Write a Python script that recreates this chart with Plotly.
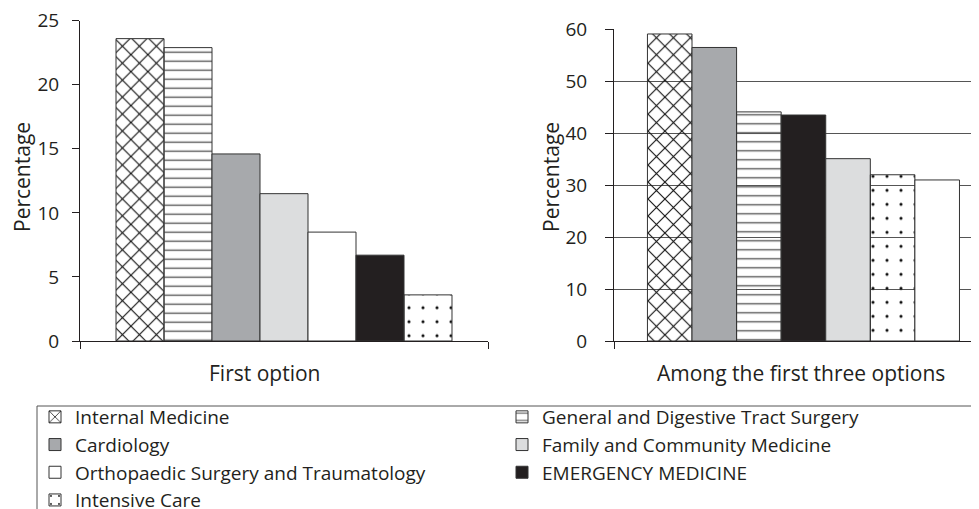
import plotly.graph_objects as go

# The page body adds an 8px margin, so the figure is sized to fill the 979x509 view.
OFF = 8
W, H = 979 - OFF, 509 - OFF

specialties = [
    "Internal Medicine",
    "General and Digestive Tract Surgery",
    "Cardiology",
    "Family and Community Medicine",
    "Orthopaedic Surgery and Traumatology",
    "EMERGENCY MEDICINE",
    "Intensive Care",
]
first_option = [23.6, 22.9, 14.6, 11.5, 8.5, 6.7, 3.6]
first_three = [59.1, 44.1, 56.5, 35.1, 31.0, 43.5, 32.0]

panel_left = "First option"
panel_right = "Among the first three options"
left_ticks = [0, 5, 10, 15, 20, 25]
left_grid = [5, 10, 15, 20]
right_ticks = [0, 10, 20, 30, 40, 50, 60]

FONT = "Open Sans"
INK = "#231F20"
GRID = "#555555"

styles = {
    "Internal Medicine": dict(color="rgba(0,0,0,0)", pattern=dict(shape="x", fgcolor="#111", bgcolor="rgba(0,0,0,0)", size=12, solidity=0.18, fillmode="replace")),
    "General and Digestive Tract Surgery": dict(color="rgba(0,0,0,0)", pattern=dict(shape="-", fgcolor="#555", bgcolor="rgba(0,0,0,0)", size=9, solidity=0.15, fillmode="replace")),
    "Cardiology": dict(color="#A7A9AC"),
    "Family and Community Medicine": dict(color="#DCDDDE"),
    "Orthopaedic Surgery and Traumatology": dict(color="#FFFFFF"),
    "EMERGENCY MEDICINE": dict(color=INK),
    "Intensive Care": dict(color="rgba(0,0,0,0)", pattern=dict(shape=".", fgcolor="#111", bgcolor="rgba(0,0,0,0)", size=14, solidity=0.04, fillmode="replace")),
}

fig = go.Figure()

def add_bar(name, value, category, xa, ya, showlegend):
    st = styles[name]
    marker = dict(color=st["color"], line=dict(color="#333333", width=1))
    if "pattern" in st:
        marker["pattern"] = st["pattern"]
    fig.add_trace(go.Bar(
        x=[category], y=[value], name=name, legendgroup=name,
        showlegend=showlegend, marker=marker, xaxis=xa, yaxis=ya,
        hoverinfo="skip",
    ))

left_order = sorted(range(len(specialties)), key=lambda i: -first_option[i])
for i in left_order:
    add_bar(specialties[i], first_option[i], panel_left, "x", "y", True)

right_order = sorted(range(len(specialties)), key=lambda i: -first_three[i])
for i in right_order:
    add_bar(specialties[i], first_three[i], panel_right, "x2", "y2", False)

def px_x(p):
    return (p - OFF) / W

def px_y(p):
    return (H - (p - OFF)) / H

tickfont = dict(family=FONT, size=19, color=INK)

fig.update_layout(
    width=W, height=H,
    margin=dict(l=0, r=0, t=0, b=0, autoexpand=False),
    paper_bgcolor="white", plot_bgcolor="rgba(0,0,0,0)",
    barmode="group", bargap=0.1765, bargroupgap=0,
    font=dict(family=FONT, size=19, color=INK),
    xaxis=dict(domain=[px_x(80), px_x(488)], type="category", range=[-0.5, 0.5],
               showticklabels=False, ticks="outside", tickson="boundaries", ticklen=7,
               tickcolor=INK, showline=True, linecolor=INK, linewidth=1, showgrid=False,
               anchor="y"),
    yaxis=dict(domain=[px_y(341), px_y(20.7)], range=[0, 25], tickvals=left_ticks,
               ticks="outside", ticklen=7, tickcolor=INK, showline=True, linecolor=INK,
               showgrid=False, zeroline=False, tickfont=tickfont, ticklabelstandoff=9,
               ticklabeloverflow="allow", anchor="x"),
    yaxis3=dict(overlaying="y", range=[0, 25], tickvals=left_grid, showgrid=True,
                gridcolor=GRID, gridwidth=1, showticklabels=False, ticks="",
                showline=False, zeroline=False, anchor="x"),
    xaxis2=dict(domain=[px_x(614), 1.0], type="category", range=[-0.5, 0.4633],
                showticklabels=False, ticks="outside", tickson="boundaries", ticklen=7,
                tickcolor=INK, showline=True, linecolor=INK, linewidth=1, showgrid=False,
                anchor="y2"),
    yaxis2=dict(domain=[px_y(341), px_y(29.3)], range=[0, 60], tickvals=right_ticks,
                ticks="outside", ticklen=8, tickcolor=INK, showline=True, linecolor=INK,
                showgrid=True, gridcolor=GRID, gridwidth=1, zeroline=False,
                tickfont=tickfont, ticklabelstandoff=14, ticklabeloverflow="allow",
                anchor="x2"),
    legend=dict(orientation="h", x=px_x(35), y=px_y(398), xanchor="left", yanchor="top",
                entrywidth=422, entrywidthmode="pixels", font=dict(family=FONT, size=19, color=INK),
                bgcolor="rgba(0,0,0,0)", borderwidth=0, traceorder="normal"),
    showlegend=True,
)

fig.add_shape(type="rect", xref="paper", yref="paper",
              x0=px_x(37), x1=1.05, y0=-0.1, y1=px_y(406),
              line=dict(color="#555555", width=1), fillcolor="rgba(0,0,0,0)", layer="above")

titlefont = dict(family=FONT, size=21, color=INK)
for txt, x, y, ang in [("Percentage", 22, 177, -90), ("Percentage", 551, 177, -90),
                       (panel_left, 264, 373, 0), (panel_right, 801, 373, 0)]:
    fig.add_annotation(text=txt, x=px_x(x), y=px_y(y), xref="paper", yref="paper",
                       xanchor="center", yanchor="middle", textangle=ang,
                       showarrow=False, font=titlefont)

fig.write_html("out.html")
